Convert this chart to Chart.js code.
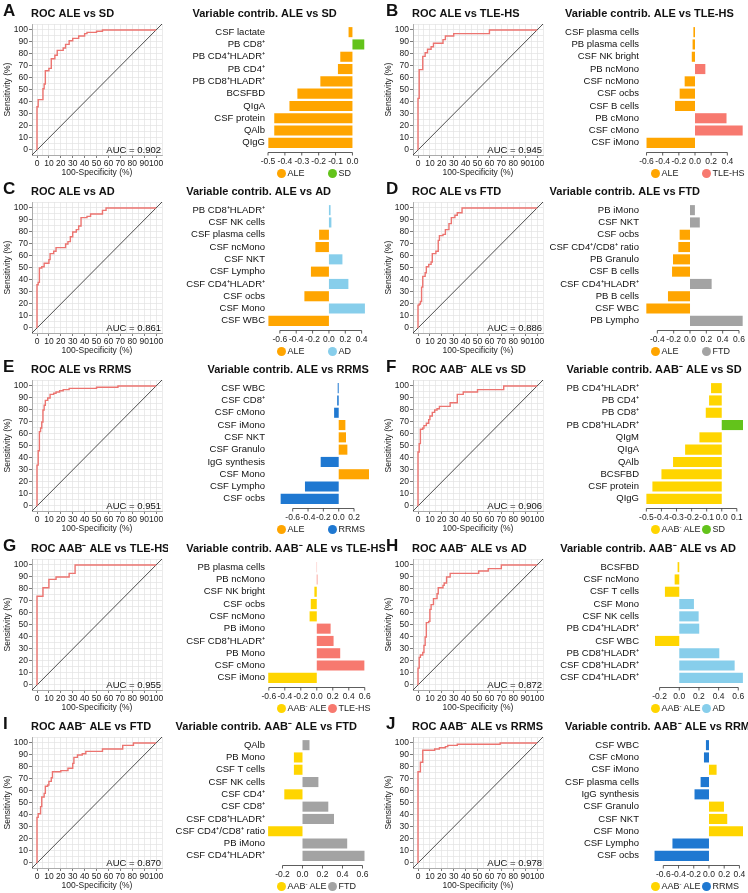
<!DOCTYPE html>
<html>
<head>
<meta charset="utf-8">
<script src="https://cdn.jsdelivr.net/npm/chart.js@4.4.1/dist/chart.umd.min.js"></script>
<style>
  html, body { margin: 0; background: #fff; overflow: hidden; }
  #fig { position: relative; width: 748px; height: 893px; overflow: hidden; font-family: 'Liberation Sans', Arial, sans-serif; color: #111; }
  #fig canvas { position: absolute; }
  .letter { position: absolute; font-weight: bold; font-size: 17px; line-height: 17px; }
  .legend { position: absolute; font-size: 9px; line-height: 11px; white-space: nowrap; color: #222; }
  .legend span { display: inline-block; width: 51px; }
  .legend i { display: inline-block; width: 9px; height: 9px; border-radius: 50%; vertical-align: -2px; margin-right: 2px; }
  .legend sup { font-size: 6px; vertical-align: 3px; line-height: 0; }
</style>
</head>
<body>
<div id="fig"></div>
<script>
/* ═══════════════════════════════════════════════════════════
   ROC curves + variable contributions, panels A–J
   ═══════════════════════════════════════════════════════════ */

// ---- A: ALE vs SD
const labelsA = ['CSF lactate', 'PB CD8⁺', 'PB CD4⁺HLADR⁺', 'PB CD4⁺', 'PB CD8⁺HLADR⁺', 'BCSFBD', 'QIgA', 'CSF protein', 'QAlb', 'QIgG'];
const valuesA = [-0.023, 0.07, -0.072, -0.086, -0.19, -0.326, -0.373, -0.463, -0.463, -0.498];
const ticksA = [-0.5, -0.4, -0.3, -0.2, -0.1, 0];
const limA = [-0.5, 0.098];
const fprA = [0, 0, 1, 5, 6, 7, 10, 12, 15, 17, 22, 24, 27, 30, 35, 40, 42, 50, 55, 100];
const tprA = [0, 36, 42, 51, 55, 66, 68, 76, 79, 83, 85, 88, 91, 93, 95, 97, 98, 99, 100, 100];

// ---- B: ALE vs TLE-HS
const labelsB = ['CSF plasma cells', 'PB plasma cells', 'CSF NK bright', 'PB ncMono', 'CSF ncMono', 'CSF ocbs', 'CSF B cells', 'PB cMono', 'CSF cMono', 'CSF iMono'];
const valuesB = [-0.02, -0.03, -0.04, 0.128, -0.128, -0.19, -0.247, 0.39, 0.59, -0.6];
const ticksB = [-0.6, -0.4, -0.2, 0, 0.2, 0.4];
const limB = [-0.656, 0.594];
const fprB = [0, 0, 1, 4, 6, 8, 11, 13, 21, 23, 30, 60, 100];
const tprB = [0, 43, 67, 78, 81, 84, 86, 89, 92, 95, 97, 100, 100];

// ---- C: ALE vs AD
const labelsC = ['PB CD8⁺HLADR⁺', 'CSF NK cells', 'CSF plasma cells', 'CSF ncMono', 'CSF NKT', 'CSF Lympho', 'CSF CD4⁺HLADR⁺', 'CSF ocbs', 'CSF Mono', 'CSF WBC'];
const valuesC = [0.02, 0.03, -0.12, -0.165, 0.165, -0.22, 0.238, -0.3, 0.44, -0.74];
const ticksC = [-0.6, -0.4, -0.2, 0, 0.2, 0.4];
const limC = [-0.745, 0.49];
const fprC = [0, 0, 1, 2, 4, 6, 10, 11, 14, 16, 24, 26, 28, 30, 33, 35, 37, 42, 45, 55, 58, 100];
const tprC = [0, 36, 38, 50, 51, 54, 57, 62, 64, 67, 70, 72, 76, 80, 82, 85, 92, 93, 95, 98, 100, 100];

// ---- D: ALE vs FTD
const labelsD = ['PB iMono', 'CSF NKT', 'CSF ocbs', 'CSF CD4⁺/CD8⁺ ratio', 'PB Granulo', 'CSF B cells', 'CSF CD4⁺HLADR⁺', 'PB B cells', 'CSF WBC', 'PB Lympho'];
const valuesD = [0.06, 0.12, -0.127, -0.143, -0.208, -0.22, 0.265, -0.27, -0.535, 0.645];
const ticksD = [-0.4, -0.2, 0, 0.2, 0.4, 0.6];
const limD = [-0.588, 0.649];
const fprD = [0, 0, 1, 2, 3, 4, 6, 7, 9, 11, 12, 15, 17, 18, 21, 23, 26, 28, 31, 33, 37, 100];
const tprD = [0, 19, 20, 22, 34, 43, 46, 51, 53, 55, 62, 64, 73, 77, 78, 82, 87, 92, 94, 96, 100, 100];

// ---- E: ALE vs RRMS
const labelsE = ['CSF WBC', 'CSF CD8⁺', 'CSF cMono', 'CSF iMono', 'CSF NKT', 'CSF Granulo', 'IgG synthesis', 'CSF Mono', 'CSF Lympho', 'CSF ocbs'];
const valuesE = [-0.013, -0.02, -0.06, 0.087, 0.095, 0.113, -0.235, 0.395, -0.44, -0.757];
const ticksE = [-0.6, -0.4, -0.2, 0, 0.2];
const limE = [-0.922, 0.395];
const fprE = [0, 0, 1, 2, 3, 4, 5, 6, 7, 9, 11, 14, 16, 19, 22, 27, 50, 68, 100];
const tprE = [0, 34, 46, 62, 65, 70, 80, 84, 88, 90, 93, 94, 95, 96, 97, 98, 99, 100, 100];

// ---- F: AAB- ALE vs SD
const labelsF = ['PB CD4⁺HLADR⁺', 'PB CD4⁺', 'PB CD8⁺', 'PB CD8⁺HLADR⁺', 'QIgM', 'QIgA', 'QAlb', 'BCSFBD', 'CSF protein', 'QIgG'];
const valuesF = [-0.071, -0.084, -0.106, 0.142, -0.148, -0.243, -0.323, -0.4, -0.46, -0.5];
const ticksF = [-0.5, -0.4, -0.3, -0.2, -0.1, 0, 0.1];
const limF = [-0.529, 0.141];
const fprF = [0, 0, 1, 2, 4, 5, 7, 9, 10, 12, 14, 16, 18, 27, 33, 38, 50, 72, 100];
const tprF = [0, 45, 52, 64, 65, 67, 69, 72, 75, 78, 80, 81, 83, 86, 93, 95, 97, 100, 100];

// ---- G: AAB- ALE vs TLE-HS
const labelsG = ['PB plasma cells', 'PB ncMono', 'CSF NK bright', 'CSF ocbs', 'CSF ncMono', 'PB iMono', 'CSF CD8⁺HLADR⁺', 'PB Mono', 'CSF cMono', 'CSF iMono'];
const valuesG = [0.003, 0.008, -0.03, -0.075, -0.09, 0.173, 0.21, 0.293, 0.595, -0.607];
const ticksG = [-0.6, -0.4, -0.2, 0, 0.2, 0.4, 0.6];
const limG = [-0.61, 0.653];
const fprG = [0, 0, 5, 10, 16, 27, 32, 100];
const tprG = [0, 74, 81, 88, 90, 93, 100, 100];

// ---- H: AAB- ALE vs AD
const labelsH = ['BCSFBD', 'CSF ncMono', 'CSF T cells', 'CSF Mono', 'CSF NK cells', 'PB CD4⁺HLADR⁺', 'CSF WBC', 'PB CD8⁺HLADR⁺', 'CSF CD8⁺HLADR⁺', 'CSF CD4⁺HLADR⁺'];
const valuesH = [-0.017, -0.047, -0.146, 0.149, 0.197, 0.203, -0.247, 0.407, 0.563, 0.647];
const ticksH = [-0.2, 0, 0.2, 0.4, 0.6];
const limH = [-0.379, 0.648];
const fprH = [0, 0, 1, 2, 4, 5, 6, 7, 9, 10, 11, 13, 16, 17, 21, 22, 24, 27, 51, 59, 70, 100];
const tprH = [0, 14, 23, 25, 27, 33, 40, 52, 53, 63, 67, 72, 76, 81, 83, 85, 90, 93, 95, 97, 100, 100];

// ---- I: AAB- ALE vs FTD
const labelsI = ['QAlb', 'PB Mono', 'CSF T cells', 'CSF NK cells', 'CSF CD4⁺', 'CSF CD8⁺', 'CSF CD8⁺HLADR⁺', 'CSF CD4⁺/CD8⁺ ratio', 'PB iMono', 'CSF CD4⁺HLADR⁺'];
const valuesI = [0.07, -0.086, -0.086, 0.159, -0.182, 0.258, 0.315, -0.344, 0.447, 0.62];
const ticksI = [-0.2, 0, 0.2, 0.4, 0.6];
const limI = [-0.345, 0.665];
const fprI = [0, 0, 1, 3, 4, 6, 7, 9, 10, 12, 13, 20, 26, 30, 31, 34, 38, 41, 55, 72, 81, 100];
const tprI = [0, 38, 41, 47, 55, 58, 64, 65, 68, 71, 76, 77, 79, 83, 88, 90, 91, 93, 95, 98, 100, 100];

// ---- J: AAB- ALE vs RRMS
const labelsJ = ['CSF WBC', 'CSF cMono', 'CSF iMono', 'CSF plasma cells', 'IgG synthesis', 'CSF Granulo', 'CSF NKT', 'CSF Mono', 'CSF Lympho', 'CSF ocbs'];
const valuesJ = [-0.04, -0.066, 0.1, -0.11, -0.19, 0.197, 0.24, 0.447, -0.48, -0.715];
const ticksJ = [-0.6, -0.4, -0.2, 0, 0.2, 0.4];
const limJ = [-0.88, 0.447];
const fprJ = [0, 0, 2, 4, 14, 18, 23, 25, 33, 69, 100];
const tprJ = [0, 76, 84, 94, 95, 96, 97, 98, 99, 100, 100];

// ROC axes: grid every 5, labels every 10
const rocLim = [-4.2, 105];
const rocTicks = [0, 5, 10, 15, 20, 25, 30, 35, 40, 45, 50, 55, 60, 65, 70, 75, 80, 85, 90, 95, 100];

const groupColors = {
  'ALE': '#FFA500',
  'AAB⁻ ALE': '#FFD500',
  'SD': '#63C31B',
  'TLE-HS': '#F7796F',
  'AD': '#87CEEB',
  'FTD': '#A3A3A3',
  'RRMS': '#1F78D1'
};

// neg = group whose bars point left
const panels = [
  { id: 'A', a: 'ALE', b: 'SD', neg: 'ALE', auc: 0.902, labels: labelsA, values: valuesA, ticks: ticksA, lim: limA, fpr: fprA, tpr: tprA },
  { id: 'B', a: 'ALE', b: 'TLE-HS', neg: 'ALE', auc: 0.945, labels: labelsB, values: valuesB, ticks: ticksB, lim: limB, fpr: fprB, tpr: tprB },
  { id: 'C', a: 'ALE', b: 'AD', neg: 'ALE', auc: 0.861, labels: labelsC, values: valuesC, ticks: ticksC, lim: limC, fpr: fprC, tpr: tprC },
  { id: 'D', a: 'ALE', b: 'FTD', neg: 'ALE', auc: 0.886, labels: labelsD, values: valuesD, ticks: ticksD, lim: limD, fpr: fprD, tpr: tprD },
  { id: 'E', a: 'ALE', b: 'RRMS', neg: 'RRMS', auc: 0.951, labels: labelsE, values: valuesE, ticks: ticksE, lim: limE, fpr: fprE, tpr: tprE },
  { id: 'F', a: 'AAB⁻ ALE', b: 'SD', neg: 'AAB⁻ ALE', auc: 0.906, labels: labelsF, values: valuesF, ticks: ticksF, lim: limF, fpr: fprF, tpr: tprF },
  { id: 'G', a: 'AAB⁻ ALE', b: 'TLE-HS', neg: 'AAB⁻ ALE', auc: 0.955, labels: labelsG, values: valuesG, ticks: ticksG, lim: limG, fpr: fprG, tpr: tprG },
  { id: 'H', a: 'AAB⁻ ALE', b: 'AD', neg: 'AAB⁻ ALE', auc: 0.872, labels: labelsH, values: valuesH, ticks: ticksH, lim: limH, fpr: fprH, tpr: tprH },
  { id: 'I', a: 'AAB⁻ ALE', b: 'FTD', neg: 'AAB⁻ ALE', auc: 0.870, labels: labelsI, values: valuesI, ticks: ticksI, lim: limI, fpr: fprI, tpr: tprI },
  { id: 'J', a: 'AAB⁻ ALE', b: 'RRMS', neg: 'RRMS', auc: 0.978, labels: labelsJ, values: valuesJ, ticks: ticksJ, lim: limJ, fpr: fprJ, tpr: tprJ }
];

const FONT = "'Liberation Sans', Arial, sans-serif";
Chart.defaults.font.family = FONT;
Chart.defaults.color = '#222';
Chart.defaults.animation = false;

const rowTop = [0, 178, 356, 535, 713];
const fig = document.getElementById('fig');

// Bold title above each chart; bar titles start where the widest label starts
const panelTitle = {
  id: 'panelTitle',
  afterDraw(chart, args, opts) {
    const ctx = chart.ctx;
    let x = chart.chartArea.left - 1;
    if (opts.alignToLabels) {
      ctx.save();
      ctx.font = '9.5px ' + FONT;
      const widest = Math.max(...chart.data.labels.map(l => ctx.measureText(l).width));
      ctx.restore();
      x = chart.chartArea.left - 3 - widest;
    }
    ctx.save();
    ctx.font = 'bold 11px ' + FONT;
    ctx.fillStyle = '#111';
    ctx.textBaseline = 'alphabetic';
    ctx.fillText(opts.text, x, 16.5);
    ctx.restore();
  }
};

// AUC note in the lower right corner of the ROC plot
const aucNote = {
  id: 'aucNote',
  afterDraw(chart, args, opts) {
    const { ctx, chartArea } = chart;
    ctx.save();
    ctx.font = '9.5px ' + FONT;
    ctx.fillStyle = '#111';
    ctx.textAlign = 'right';
    ctx.fillText(opts.text, chartArea.right - 1, chartArea.bottom - 2);
    ctx.restore();
  }
};

// x axis line only between first and last tick
const cappedAxis = {
  id: 'cappedAxis',
  afterDraw(chart) {
    const x = chart.scales.x, ctx = chart.ctx;
    const px = x.ticks.map(t => x.getPixelForValue(t.value));
    const y0 = Math.round(chart.chartArea.bottom + 3) + 0.5;
    ctx.save();
    ctx.strokeStyle = '#333';
    ctx.lineWidth = 0.8;
    ctx.beginPath();
    ctx.moveTo(px[0], y0);
    ctx.lineTo(px[px.length - 1], y0);
    px.forEach(p => { ctx.moveTo(p, y0); ctx.lineTo(p, y0 + 3); });
    ctx.stroke();
    ctx.restore();
  }
};

function addCanvas(left, top, w, h) {
  const c = document.createElement('canvas');
  c.width = w; c.height = h;
  c.style.left = left + 'px';
  c.style.top = top + 'px';
  fig.appendChild(c);
  return c;
}

function addDiv(cls, left, top, html) {
  const d = document.createElement('div');
  d.className = cls;
  d.style.left = left + 'px';
  d.style.top = top + 'px';
  d.innerHTML = html;
  fig.appendChild(d);
}

function drawRoc(canvas, p) {
  const axisFont = { size: 8.5 };
  const tickMark = ctx => (ctx.tick && ctx.tick.value % 10 === 0 ? '#444' : 'rgba(0,0,0,0)');
  const rocAxis = (title, fit) => ({
    type: 'linear',
    min: rocLim[0],
    max: rocLim[1],
    grid: { color: '#e3e3e3', lineWidth: 0.7, tickColor: tickMark, tickLength: 3 },
    border: { color: '#9a9a9a', width: 0.8 },
    ticks: { autoSkip: false, maxRotation: 0, minRotation: 0, padding: 1, font: axisFont, color: '#222',
             callback: v => (v % 10 === 0 ? v : '') },
    // edges of the panel get a grid line too, so the plot reads as a framed box
    afterBuildTicks: s => { s.ticks = [rocLim[0], ...rocTicks, rocLim[1]].map(v => ({ value: v })); },
    title: { display: true, text: title, font: axisFont, color: '#222', padding: { top: 3, bottom: 2 } },
    afterFit: fit
  });

  new Chart(canvas, {
    type: 'line',
    data: {
      datasets: [
        { data: p.fpr.map((x, k) => ({ x, y: p.tpr[k] })), borderColor: '#EC7470', borderWidth: 1.4, stepped: true, pointRadius: 0 },
        { data: rocLim.map(v => ({ x: v, y: v })), borderColor: '#222', borderWidth: 0.8, pointRadius: 0 }
      ]
    },
    options: {
      responsive: false,
      events: [],
      layout: { padding: { top: 24, right: 6 } },
      plugins: {
        legend: { display: false },
        tooltip: { enabled: false },
        panelTitle: { text: 'ROC ' + p.a + ' vs ' + p.b },
        aucNote: { text: 'AUC = ' + p.auc.toFixed(3) }
      },
      scales: {
        x: rocAxis('100-Specificity (%)', s => { s.height = 25; }),
        y: rocAxis('Sensitivity (%)', s => { s.width = 32; })
      }
    },
    plugins: [panelTitle, aucNote]
  });
}

function drawBars(canvas, p) {
  // split values by direction into the two groups
  const side = g => p.values.map(v => ((v < 0) === (g === p.neg) ? v : null));

  new Chart(canvas, {
    type: 'bar',
    data: {
      labels: p.labels,
      datasets: [p.a, p.b].map(g => ({
        label: g,
        data: side(g),
        backgroundColor: groupColors[g],
        grouped: false,
        barPercentage: 0.82,
        categoryPercentage: 1
      }))
    },
    options: {
      indexAxis: 'y',
      responsive: false,
      events: [],
      layout: { padding: { top: 26, right: 16 } },
      plugins: {
        legend: { display: false },
        tooltip: { enabled: false },
        panelTitle: { text: 'Variable contrib. ' + p.a + ' vs ' + p.b, alignToLabels: true }
      },
      scales: {
        x: {
          type: 'linear',
          min: p.lim[0],
          max: p.lim[1],
          grid: { display: false, drawTicks: false },
          border: { display: false },
          ticks: { padding: 8, autoSkip: false, maxRotation: 0, minRotation: 0, font: { size: 8.5 }, color: '#222',
                   callback: v => v.toFixed(1) },
          afterBuildTicks: s => { s.ticks = p.ticks.map(v => ({ value: v })); },
          afterFit: s => { s.height = 19; }
        },
        y: {
          grid: { display: false, drawTicks: false },
          border: { display: false },
          ticks: { padding: 3, autoSkip: false, font: { size: 9.5 }, color: '#111' },
          afterFit: s => { s.width = 108; }
        }
      }
    },
    plugins: [panelTitle, cappedAxis]
  });
}

panels.forEach((p, i) => {
  const row = Math.floor(i / 2), col = i % 2;
  const top = rowTop[row];
  const left = col * 374;

  drawRoc(addCanvas(left + col * 7, top, 168, 180), p);
  drawBars(addCanvas(left + 160, top, 225, 168), p);

  addDiv('letter', left + (col ? 12 : 3), top + 1.5, p.id);
  addDiv('legend', left + 276.5, top + 167.5,
    [p.a, p.b].map(g => `<span><i style="background:${groupColors[g]}"></i>${g.replace('⁻', '<sup>-</sup>')}</span>`).join(''));
});
</script>
</body>
</html>
